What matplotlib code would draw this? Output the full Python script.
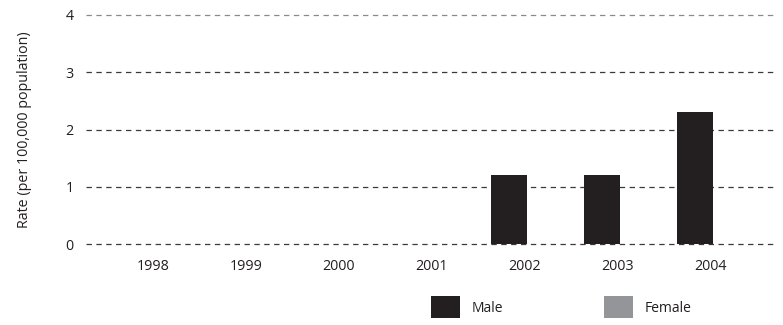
import matplotlib
matplotlib.use("Agg")
import matplotlib.pyplot as plt
import numpy as np

years = ["1998", "1999", "2000", "2001", "2002", "2003", "2004"]
male = [0, 0, 0, 0, 1.2, 1.2, 2.3]
female = [0, 0, 0, 0, 0, 0, 0]
yticks = [0, 1, 2, 3, 4]

plt.rcParams['font.family'] = ['Open Sans', 'DejaVu Sans']
txt = '#231f20'

fig = plt.figure(figsize=(7.83, 3.25), dpi=100)
ax = fig.add_axes([86/783, 1-244/325, (776-86)/783, (244-15)/325])

x = np.arange(len(years))
bm = ax.bar(x - 0.17, male, width=0.39, color='#231f20', label='Male', zorder=3)
bf = ax.bar(x + 0.22, female, width=0.39, color='#939598', label='Female', zorder=3)

ax.set_xlim(-0.72, 6.70)
ax.set_ylim(0, 4)
ax.set_xticks(x)
ax.set_xticklabels(years)
ax.set_yticks(yticks)
ax.set_yticklabels([str(v) for v in yticks])
for s in ax.spines.values():
    s.set_visible(False)
ax.tick_params(axis='both', length=0, labelsize=10.3, labelcolor=txt)
ax.tick_params(axis='x', pad=11)
ax.tick_params(axis='y', pad=9)
ax.yaxis.grid(True, color='#3a3a3a', linewidth=0.9, linestyle=(0, (4.3, 3.6)), zorder=1)
ax.xaxis.grid(False)
gl = ax.get_ygridlines()
for g in gl:
    g.set_clip_on(False)
gl[-1].set_color('#8a8a8a')
ax.set_axisbelow(True)
ax.set_ylabel('Rate (per 100,000 population)', fontsize=10.3, color=txt, labelpad=24)

fig.legend(handles=[bm, bf], loc='upper left', bbox_to_anchor=(431/783, 1-296/325),
           ncol=2, frameon=False, fontsize=10, handlelength=2.1, handleheight=2.1,
           handletextpad=0.8, columnspacing=7.3, borderpad=0, borderaxespad=0,
           labelcolor=txt)

fig.savefig('out.png', dpi=100)
